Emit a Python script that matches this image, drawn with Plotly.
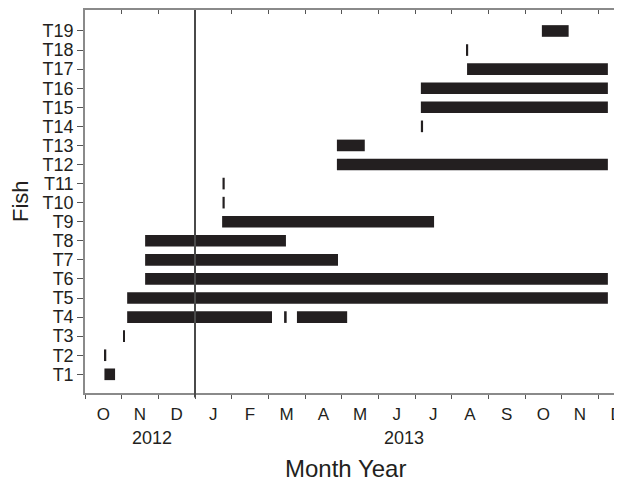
import plotly.graph_objects as go

# Fish detection periods, in months since 1 Oct 2012 (0 = 1 Oct 2012, 3 = 1 Jan 2013)
fish_labels = ["T%d" % i for i in range(1, 20)]
segment_fish = ["T1", "T2", "T3", "T4", "T4", "T4", "T5", "T6", "T7", "T8",
                "T9", "T10", "T11", "T12", "T13", "T14", "T15", "T16", "T17",
                "T18", "T19"]
segment_start = [0.53, 0.53, 1.04, 1.15, 5.43, 5.78, 1.15, 1.64, 1.64, 1.64,
                 3.74, 3.75, 3.75, 6.87, 6.87, 9.16, 9.16, 9.16, 10.42,
                 10.39, 12.46]
segment_end = [0.82, 0.58, 1.09, 5.10, 5.50, 7.15, 14.26, 14.26, 6.90, 5.48,
               9.52, 3.81, 3.81, 14.26, 7.63, 9.22, 14.26, 14.26, 14.26,
               10.45, 13.19]

month_letters = ["O", "N", "D", "J", "F", "M", "A", "M", "J", "J", "A", "S", "O", "N", "D"]
month_centers = [i + 0.5 for i in range(len(month_letters))]
month_bounds = list(range(len(month_letters) + 1))
year_labels = ["2012", "2013"]
year_positions = [1.83, 8.70]
marker_month = 3  # 1 Jan 2013

durations = [e - s for s, e in zip(segment_start, segment_end)]

FONT = "Liberation Sans, Arial, sans-serif"
INK = "#231f20"
AXIS = "#8a8a8a"
PLOT_W = 537
PLOT_H = 383
X_RANGE = [0, PLOT_W / 36.667]

fig = go.Figure()
fig.add_trace(go.Bar(
    y=segment_fish, x=durations, base=segment_start, orientation="h",
    width=0.61, marker=dict(color=INK, line=dict(width=0)),
    showlegend=False, hoverinfo="skip",
))
# invisible trace so the top (mirror) axis is drawn
fig.add_trace(go.Scatter(x=[None], y=[None], xaxis="x2", yaxis="y",
                         showlegend=False, hoverinfo="skip", mode="markers"))

fig.add_shape(type="line", xref="x", yref="paper", x0=marker_month, x1=marker_month,
              y0=-0.012, y1=1, line=dict(color="#4a4a4a", width=2), layer="above")

for txt, pos in zip(year_labels, year_positions):
    fig.add_annotation(x=pos, xref="x", y=-45 / PLOT_H, yref="paper", text=txt,
                       showarrow=False, xanchor="center", yanchor="middle",
                       font=dict(family=FONT, size=18, color=INK))

fig.add_annotation(x=260 / PLOT_W, xref="paper", y=-75 / PLOT_H, yref="paper", text="Month Year",
                   showarrow=False, xanchor="center", yanchor="middle",
                   font=dict(family=FONT, size=24, color=INK))
fig.add_annotation(x=-64.5 / PLOT_W, xref="paper", y=0.5, yref="paper", text="Fish",
                   textangle=-90, showarrow=False, xanchor="center", yanchor="middle",
                   borderpad=0,
                   font=dict(family=FONT, size=22, color=INK))

fig.update_layout(
    width=77 + PLOT_W, height=474,
    margin=dict(l=77, r=0, t=2, b=474 - 2 - PLOT_H),
    paper_bgcolor="white", plot_bgcolor="white",
    barmode="overlay",
    xaxis=dict(
        range=X_RANGE, showgrid=False, zeroline=False, automargin=False,
        showline=True, linecolor=AXIS, linewidth=1.5,
        tickmode="array", tickvals=month_centers, ticktext=month_letters,
        ticks="", ticklabelstandoff=5, ticklabeloverflow="allow",
        tickfont=dict(family=FONT, size=17, color=INK),
        minor=dict(tickmode="array", tickvals=month_bounds, ticks="outside",
                   ticklen=4, tickwidth=1.2, tickcolor="#555", showgrid=False),
    ),
    xaxis2=dict(
        overlaying="x", side="top", range=X_RANGE, showgrid=False, zeroline=False,
        automargin=False, showline=True, linecolor=AXIS, linewidth=1.5,
        tickmode="array", tickvals=month_bounds, ticks="inside", ticklen=4,
        tickwidth=1.2, tickcolor="#555", showticklabels=False,
    ),
    yaxis=dict(
        type="category", categoryorder="array", categoryarray=fish_labels,
        range=[-0.98, 19.10], showgrid=False, zeroline=False, automargin=False,
        showline=True, linecolor=AXIS, linewidth=1.5,
        ticks="outside", ticklen=6, tickwidth=1.2, tickcolor="#555",
        tickfont=dict(family=FONT, size=18, color=INK),
        tickmode="array", tickvals=fish_labels, ticktext=fish_labels,
    ),
)

fig.write_html("out.html")
